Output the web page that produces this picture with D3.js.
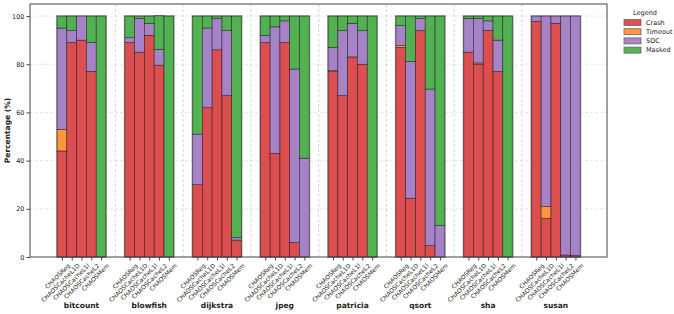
<html>
<head>
<script src="https://d3js.org/d3.v7.min.js"></script>
<style>
body { margin: 0; background: white; }
text { font-family: "DejaVu Sans", sans-serif; fill: #222; }
</style>
</head>
<body>
<svg width="674" height="314"></svg>
<script>
// data
var benchmarks = ["bitcount", "blowfish", "dijkstra", "jpeg", "patricia", "qsort", "sha", "susan"];
var configs = ["CHAOSReg", "CHAOSCacheL1D", "CHAOSCacheL1I", "CHAOSCacheL2", "CHAOSMem"];
var outcomes = ["Crash", "Timeout", "SDC", "Masked"];
var colors = ["#d62728", "#ff7f0e", "#9467bd", "#2ca02c"];

var crash = [
  [44, 89, 90, 77, 0],
  [89, 85, 92, 79.6, 0],
  [30, 62, 86, 67, 7],
  [89, 43, 89, 6, 0],
  [77, 67, 83, 80, 0],
  [87, 24.4, 94, 4.7, 0],
  [85, 80, 94, 77, 0],
  [97.8, 16, 97, 0.8, 0.6]
];
var timeout = [
  [9, 0, 0, 0, 0],
  [0, 0, 0, 0, 0],
  [0, 0, 0, 0, 0],
  [0, 0, 0, 0, 0],
  [0.3, 0, 0, 0, 0],
  [0.7, 0, 0, 0, 0],
  [0, 0.5, 0, 0, 0],
  [0, 5, 0, 0, 0]
];
var sdc = [
  [42, 5, 10, 12, 0],
  [2, 14, 5, 6.6, 0],
  [21, 33, 13, 27, 1],
  [3, 52.5, 9, 72, 41],
  [9.7, 27, 14, 14, 0],
  [8.3, 56.8, 5, 65, 13],
  [14, 18.5, 4, 13, 0],
  [2.2, 79, 3, 99.2, 99.4]
];
var masked = [
  [5, 6, 0, 11, 100],
  [9, 1, 3, 14, 100],
  [49, 5, 1, 6, 92],
  [8, 4.5, 2, 22, 59],
  [13, 6, 3, 6, 100],
  [4, 18.8, 1, 30.3, 87],
  [1, 1, 2, 10, 100],
  [0, 0, 0, 0, 0]
];
var yTicks = [0, 20, 40, 60, 80, 100];

var series = [crash, timeout, sdc, masked];
var svg = d3.select("svg");
var pl = 30, pr = 607, pt = 4, pb = 257;

var x = d3.scaleLinear().domain([-0.76, 7.755]).range([pl, pr]);
var y = d3.scaleLinear().domain([0, 105]).range([pb, pt]);
var barW = 0.1446;
var offs = configs.map(function(c, j) { return (j - 2) * barW; });

// grid
svg.append("g").selectAll("line").data(yTicks.slice(1)).enter().append("line")
  .attr("x1", pl).attr("x2", pr)
  .attr("y1", function(d) { return y(d); }).attr("y2", function(d) { return y(d); })
  .attr("stroke", "#ddd").attr("stroke-width", 0.8).attr("stroke-dasharray", "3,2");

// group separators
svg.append("g").selectAll("line").data(d3.range(benchmarks.length - 1)).enter().append("line")
  .attr("x1", function(i) { return x(i + 0.5); }).attr("x2", function(i) { return x(i + 0.5); })
  .attr("y1", pt).attr("y2", pb)
  .attr("stroke", "#ccc").attr("stroke-width", 0.8).attr("stroke-dasharray", "3,2");

// group frames
svg.append("g").selectAll("rect").data(benchmarks).enter().append("rect")
  .attr("x", function(d, i) { return x(i - 2.5 * barW); })
  .attr("width", x(5 * barW) - x(0))
  .attr("y", y(100)).attr("height", y(0) - y(100))
  .attr("fill", "#eee").attr("stroke", "#aaa").attr("stroke-width", 2);

// stacked bars
var segs = [];
benchmarks.forEach(function(b, i) {
  configs.forEach(function(c, j) {
    var base = 0;
    series.forEach(function(s, k) {
      var v = s[i][j];
      if (v > 0) segs.push({ i: i, j: j, k: k, y0: base, y1: base + v });
      base += v;
    });
  });
});
svg.append("g").selectAll("rect").data(segs).enter().append("rect")
  .attr("x", function(d) { return x(d.i + offs[d.j] - barW / 2); })
  .attr("width", x(barW) - x(0))
  .attr("y", function(d) { return y(d.y1); })
  .attr("height", function(d) { return y(d.y0) - y(d.y1); })
  .attr("fill", function(d) { return colors[d.k]; }).attr("fill-opacity", 0.8)
  .attr("stroke", "#000").attr("stroke-opacity", 0.6).attr("stroke-width", 0.6);

// frame
svg.append("rect").attr("x", pl).attr("y", pt)
  .attr("width", pr - pl).attr("height", pb - pt)
  .attr("fill", "none").attr("stroke", "#444").attr("stroke-width", 1);

// y axis
var yAxis = d3.axisLeft(y).tickValues(yTicks).tickSize(3.5).tickPadding(2);
var gy = svg.append("g").attr("transform", "translate(" + pl + ",0)").call(yAxis);
gy.select(".domain").remove();
gy.selectAll("text").style("font-size", "6.5px").style("font-family", "DejaVu Sans");
gy.selectAll("line").attr("stroke", "#444");

// x axis (one tick per bar)
var xPos = [], xLab = [];
benchmarks.forEach(function(b, i) {
  configs.forEach(function(c, j) { xPos.push(i + offs[j]); xLab.push(c); });
});
var xAxis = d3.axisBottom(x).tickValues(xPos)
  .tickFormat(function(d, i) { return xLab[i]; }).tickSize(3.5);
var gx = svg.append("g").attr("transform", "translate(0," + pb + ")").call(xAxis);
gx.select(".domain").remove();
gx.selectAll("line").attr("stroke", "#444");
gx.selectAll("text")
  .style("font-size", "6px").style("font-family", "DejaVu Sans")
  .attr("text-anchor", "end")
  .attr("dy", "0.35em")
  .attr("transform", "translate(2,3) rotate(-45)");

// benchmark labels
svg.append("g").selectAll("text").data(benchmarks).enter().append("text")
  .attr("x", function(d, i) { return x(i); }).attr("y", 308)
  .attr("text-anchor", "middle").style("font-size", "7.5px").style("font-weight", "bold")
  .text(function(d) { return d; });

// y label
svg.append("text").attr("transform", "translate(10," + ((pt + pb) / 2) + ") rotate(-90)")
  .attr("text-anchor", "middle").style("font-size", "7.5px").style("font-weight", "bold")
  .text("Percentage (%)");

// legend
var lg = svg.append("g").attr("transform", "translate(624,0)");
lg.append("text").attr("x", 21).attr("y", 15).attr("text-anchor", "middle")
  .style("font-size", "6.5px").text("Legend");
var items = lg.selectAll("g.item").data(outcomes).enter().append("g")
  .attr("transform", function(d, k) { return "translate(0," + (22.5 + k * 9.2) + ")"; });
items.append("rect").attr("x", 0).attr("y", -3).attr("width", 17).attr("height", 6)
  .attr("fill", function(d, k) { return colors[k]; }).attr("fill-opacity", 0.8)
  .attr("stroke", "#666").attr("stroke-width", 0.8);
items.append("text").attr("x", 22).attr("y", 2.3)
  .style("font-size", "6.5px").text(function(d) { return d; });
</script>
</body>
</html>
